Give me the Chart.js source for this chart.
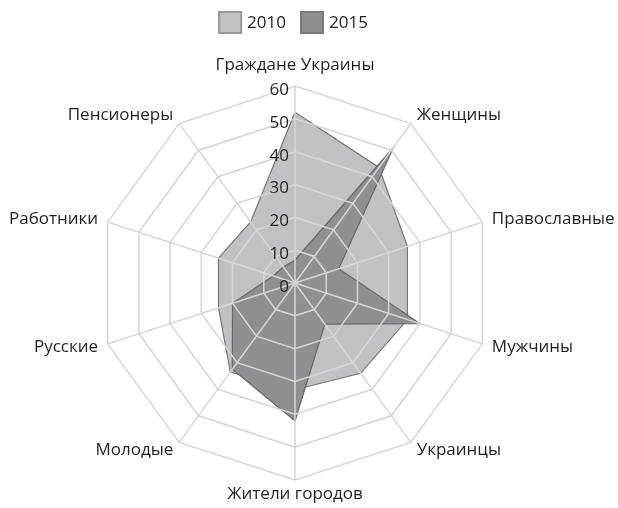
<!DOCTYPE html>
<html>
<head>
<meta charset="utf-8">
<script src="https://cdn.jsdelivr.net/npm/chart.js@4/dist/chart.umd.min.js"></script>
<style>
  body { margin: 0; background: #fff; }
  #wrap { width: 618px; height: 508px; }
</style>
</head>
<body>
<div id="wrap"><canvas id="radarCanvas" width="618" height="508"></canvas></div>
<script>
// Данные диаграммы
const categories = [
  "Граждане Украины", "Женщины", "Православные", "Мужчины", "Украинцы",
  "Жители городов", "Молодые", "Русские", "Работники", "Пенсионеры"
];
const values2010 = [52, 43.5, 36, 36, 34, 32.5, 33.5, 24.5, 24.5, 23];
const values2015 = [7, 51, 14, 40, 15.5, 42, 32.5, 20, 7, 6];
const tickValues = [0, 10, 20, 30, 40, 50, 60];

const textColor = "#231f20";
const fontFamily = '"Open Sans", "Noto Sans", sans-serif';

// Подписи осей, шкала и легенда рисуются отдельно
const textPlugin = {
  id: "radarText",
  afterDraw(chart) {
    const scale = chart.scales.r;
    const ctx = chart.ctx;
    const r = scale.drawingArea;
    ctx.save();
    ctx.fillStyle = textColor;
    ctx.font = "17px " + fontFamily;

    categories.forEach((label, i) => {
      const angle = (360 / categories.length) * i;
      let pos;
      if (angle === 0) {
        pos = scale.getPointPosition(i, r + 12);
        ctx.textAlign = "center";
        ctx.textBaseline = "bottom";
      } else if (angle === 180) {
        pos = scale.getPointPosition(i, r + 6);
        ctx.textAlign = "center";
        ctx.textBaseline = "top";
      } else {
        pos = scale.getPointPosition(i, r + 10);
        ctx.textAlign = angle < 180 ? "left" : "right";
        ctx.textBaseline = "middle";
      }
      ctx.fillText(label, pos.x, pos.y);
    });

    // значения шкалы слева от вертикальной оси
    ctx.textAlign = "right";
    ctx.textBaseline = "middle";
    tickValues.forEach((v) => {
      const d = scale.getDistanceFromCenterForValue(v);
      ctx.fillText(String(v), scale.xCenter - 6, scale.yCenter - d + 4);
    });

    // легенда
    const items = chart.data.datasets;
    const boxW = 24, boxH = 23, gap = 5, itemGap = 14;
    const widths = items.map((ds) => ctx.measureText(ds.label).width);
    let total = 0;
    widths.forEach((w, i) => { total += boxW + gap + w + (i < widths.length - 1 ? itemGap : 0); });
    let x = scale.xCenter - 2 - total / 2;
    const y = 11;
    ctx.textAlign = "left";
    items.forEach((ds, i) => {
      ctx.fillStyle = ds.backgroundColor;
      ctx.fillRect(x, y, boxW, boxH);
      ctx.strokeStyle = ds.legendBorder;
      ctx.lineWidth = 2;
      ctx.strokeRect(x + 1, y + 1, boxW - 2, boxH - 2);
      ctx.fillStyle = textColor;
      ctx.fillText(ds.label, x + boxW + gap, y + boxH / 2 + 1);
      x += boxW + gap + widths[i] + itemGap;
    });
    ctx.restore();
  }
};

const data = {
  labels: categories,
  datasets: [
    {
      label: "2010",
      data: values2010,
      backgroundColor: "#c1c1c3",
      borderColor: "#77777a",
      legendBorder: "#9a9a9c",
      borderWidth: 1.2,
      fill: true,
      pointRadius: 0,
      order: 1,
    },
    {
      label: "2015",
      data: values2015,
      backgroundColor: "#8f8f91",
      borderColor: "#68686a",
      legendBorder: "#7a7a7c",
      borderWidth: 1.2,
      fill: true,
      pointRadius: 0,
      order: 0,
    },
  ],
};

const config = {
  type: "radar",
  data,
  options: {
    responsive: false,
    animation: false,
    devicePixelRatio: 1,
    layout: {
      padding: { left: 98, right: 126, top: 86, bottom: 28 },
    },
    plugins: {
      legend: { display: false },
      tooltip: { enabled: false },
    },
    elements: {
      line: { tension: 0 },
    },
    scales: {
      r: {
        min: 0,
        max: 60,
        ticks: { stepSize: 10, display: false },
        pointLabels: { display: false },
        grid: { color: "#d6d6d6", lineWidth: 1.5, z: 1 }, // сетка поверх заливки
        angleLines: { color: "#d6d6d6", lineWidth: 1.5 },
      },
    },
  },
  plugins: [textPlugin],
};

new Chart(document.getElementById("radarCanvas"), config);
</script>
</body>
</html>
